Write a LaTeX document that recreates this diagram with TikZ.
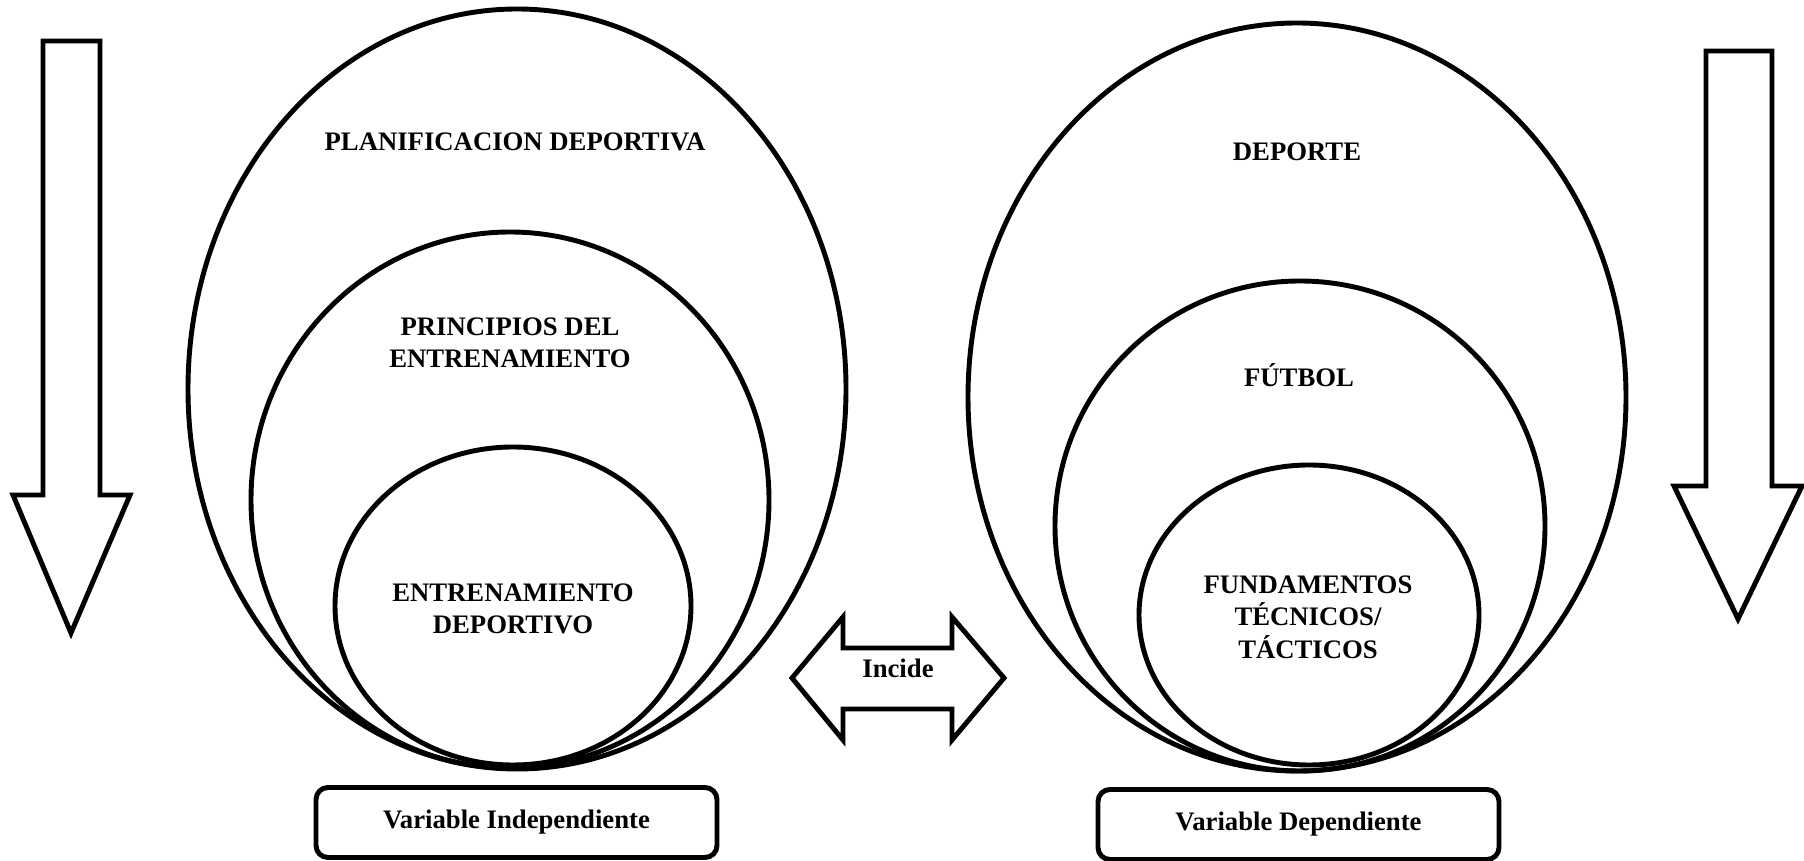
\documentclass[tikz,border=0pt]{standalone}
\usepackage{fontspec}
\setmainfont{Liberation Serif}
\usepackage{tikz}
\usetikzlibrary{shapes.geometric,positioning}

\tikzset{
  circ/.style={draw, ellipse, line width=1.4pt, inner sep=0pt},
  lbl/.style={font=\fontsize{7.6}{9.2}\selectfont\bfseries, align=center},
  varbox/.style={draw, rounded corners=1.2mm, line width=1.4pt, minimum width=4.01cm, minimum height=0.70cm, lbl},
  bigarrow/.style={line width=1.4pt, line join=miter},
}

\begin{document}
\begin{tikzpicture}[x=1cm,y=-1cm]
\useasboundingbox (0,0) rectangle (18.04,8.61);
% independiente
\node[circ, minimum width=6.58cm, minimum height=7.60cm] (plan) at (5.17,3.89) {};
\node[circ, minimum width=5.18cm, minimum height=5.36cm] (princ) at (5.10,5.00) {};
\node[circ, minimum width=3.56cm, minimum height=3.18cm] (entr) at (5.13,6.06) {};
\node[lbl] (tplan) at (5.15,1.42) {PLANIFICACION DEPORTIVA};
\node[lbl] (tprinc) at (5.10,3.43) {PRINCIPIOS DEL\\ENTRENAMIENTO};
\node[lbl] (tentr) at (5.13,6.09) {ENTRENAMIENTO\\DEPORTIVO};
% dependiente
\node[circ, minimum width=6.58cm, minimum height=7.48cm] (dep) at (12.97,3.97) {};
\node[circ, minimum width=4.90cm, minimum height=4.90cm] (fut) at (13.00,5.26) {};
\node[circ, minimum width=3.40cm, minimum height=3.00cm] (fund) at (13.09,6.15) {};
\node[lbl] (tdep) at (12.97,1.52) {DEPORTE};
\node[lbl] (tfut) at (12.99,3.75) {FÚTBOL};
\node[lbl] (tfund) at (13.08,6.17) {FUNDAMENTOS\\TÉCNICOS/\\TÁCTICOS};
% flechas
\draw[bigarrow] (0.43,0.41) -- (1.00,0.41) -- (1.00,4.95) -- (1.30,4.95) -- (0.71,6.33)
  -- (0.13,4.95) -- (0.43,4.95) -- cycle;
\draw[bigarrow] (17.06,0.51) -- (17.72,0.51) -- (17.72,4.86) -- (18.02,4.86) -- (17.38,6.19)
  -- (16.74,4.86) -- (17.06,4.86) -- cycle;
\draw[bigarrow] (7.92,6.78) -- (8.43,6.17) -- (8.43,6.48) -- (9.52,6.48) -- (9.52,6.17)
  -- (10.04,6.78) -- (9.52,7.40) -- (9.52,7.09) -- (8.43,7.09) -- (8.43,7.40) -- cycle;
\node[lbl] (incide) at (8.98,6.68) {Incide};
% variables
\node[varbox] (vi) at (5.165,8.225) {Variable Independiente};
\node[varbox] (vd) at (12.985,8.245) {Variable Dependiente};
\end{tikzpicture}
\end{document}
